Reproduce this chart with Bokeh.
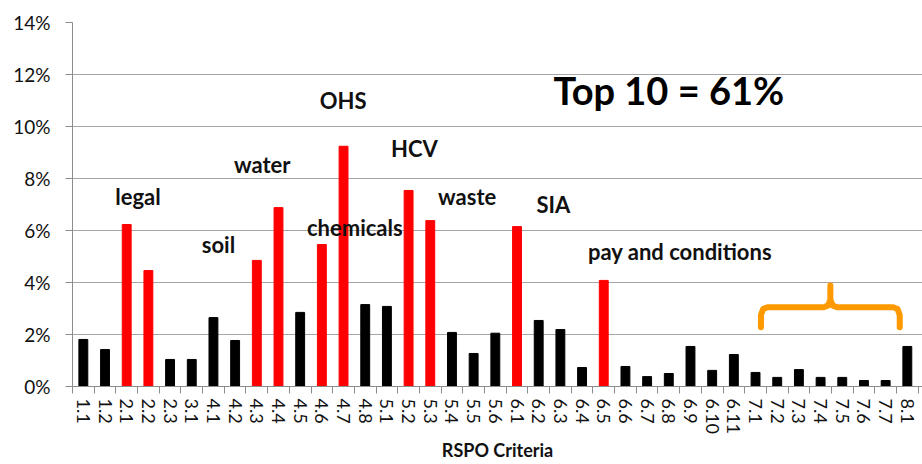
from bokeh.plotting import figure
from bokeh.models import FixedTicker, PrintfTickFormatter, ColumnDataSource
from bokeh.core.properties import value
from bokeh.embed import file_html
from bokeh.resources import INLINE

# ---- data ----
criteria = ["1.1", "1.2", "2.1", "2.2", "2.3", "3.1", "4.1", "4.2", "4.3", "4.4",
            "4.5", "4.6", "4.7", "4.8", "5.1", "5.2", "5.3", "5.4", "5.5", "5.6",
            "6.1", "6.2", "6.3", "6.4", "6.5", "6.6", "6.7", "6.8", "6.9", "6.10",
            "6.11", "7.1", "7.2", "7.3", "7.4", "7.5", "7.6", "7.7", "8.1"]
share_pct = [1.81, 1.42, 6.23, 4.46, 1.04, 1.04, 2.65, 1.77, 4.85, 6.88,
             2.85, 5.46, 9.24, 3.15, 3.08, 7.54, 6.38, 2.08, 1.27, 2.05,
             6.15, 2.54, 2.19, 0.73, 4.08, 0.77, 0.38, 0.50, 1.54, 0.62,
             1.23, 0.54, 0.35, 0.65, 0.35, 0.35, 0.23, 0.23, 1.54]
y_ticks = [0, 2, 4, 6, 8, 10, 12, 14]

topic_labels = ["legal", "soil", "water", "chemicals", "OHS", "HCV", "waste", "SIA",
                "pay and conditions"]
topic_x = [2.52, 6.23, 8.25, 12.52, 11.98, 15.27, 17.7, 21.68, 27.52]
topic_y = [7.31, 5.46, 8.54, 6.12, 11.0, 9.15, 7.31, 7.0, 5.19]

summary_text = "Top 10 = 61%"
summary_x = 27.0
summary_y = 11.42

brace_group = ["7.1", "7.7"]
brace_level = 3.05

# ---- derived ----
idx = list(range(len(criteria)))
top10 = sorted(idx, key=lambda i: share_pct[i], reverse=True)[:10]
colors = ["#FF0000" if i in top10 else "#000000" for i in idx]

FONT = "Lato"

p = figure(width=922, height=464, x_range=(-0.5, 38.7), y_range=(0, 14),
           output_backend="svg", toolbar_location=None,
           min_border_left=72, min_border_right=0, min_border_top=22, min_border_bottom=78)
p.outline_line_color = None
p.background_fill_color = "white"
p.border_fill_color = "white"

p.vbar(x=idx, top=share_pct, width=0.41, color=colors)

# axes
p.yaxis.ticker = FixedTicker(ticks=y_ticks)
p.yaxis.formatter = PrintfTickFormatter(format="%d%%")
p.yaxis.major_tick_in = 0
p.yaxis.major_tick_out = 7
p.yaxis.minor_tick_line_color = None
p.yaxis.axis_line_color = "#8C8C8C"
p.yaxis.major_tick_line_color = "#8C8C8C"
p.yaxis.major_label_text_font = FONT
p.yaxis.major_label_text_font_size = "19px"
p.yaxis.major_label_text_color = "#111111"
p.yaxis.major_label_standoff = 15

boundaries = [i - 0.5 for i in range(len(criteria) + 1)]
p.xaxis.ticker = FixedTicker(ticks=idx, minor_ticks=boundaries)
p.xaxis.major_label_overrides = {i: c for i, c in enumerate(criteria)}
p.xaxis.major_tick_in = 0
p.xaxis.major_tick_out = 0
p.xaxis.minor_tick_in = 0
p.xaxis.minor_tick_out = 7
p.xaxis.minor_tick_line_color = "#8C8C8C"
p.xaxis.axis_line_color = "#8C8C8C"
p.xaxis.major_label_orientation = "vertical"
p.xaxis.major_label_text_font = FONT
p.xaxis.major_label_text_font_size = "18px"
p.xaxis.major_label_text_color = "#111111"
p.xaxis.major_label_standoff = 5
p.xaxis.axis_label = "RSPO Criteria"
p.xaxis.axis_label_text_font = FONT
p.xaxis.axis_label_text_font_size = "18px"
p.xaxis.axis_label_text_font_style = "bold"
p.xaxis.axis_label_text_color = "#111111"
p.xaxis.axis_label_standoff = 2

p.xgrid.grid_line_color = None
p.ygrid.grid_line_color = "#A6A6A6"
p.ygrid.grid_line_width = 1

# annotations
src = ColumnDataSource(dict(x=topic_x, y=topic_y, t=topic_labels))
p.text(x="x", y="y", text="t", source=src, text_font=value(FONT), text_font_style="bold",
       text_font_size="22px", text_align="center", text_baseline="middle", text_color="#111111")
p.text(x=[summary_x], y=[summary_y], text=[summary_text], text_font=value(FONT),
       text_font_style="bold", text_font_size="38px", text_align="center",
       text_baseline="middle", text_color="#000000")

# orange brace over the 7.x group
x0 = criteria.index(brace_group[0]) + 0.25
x1 = criteria.index(brace_group[1]) + 0.65
xm = (x0 + x1) / 2
bx = [x0, x0, x0 + 0.1, x0 + 0.3, xm - 0.3, xm - 0.1, xm, xm, xm, xm + 0.1, xm + 0.3,
      x1 - 0.3, x1 - 0.1, x1, x1]
by = [brace_level - 0.77, brace_level - 0.3, brace_level - 0.07, brace_level, brace_level,
      brace_level + 0.07, brace_level + 0.3, brace_level + 0.83, brace_level + 0.3,
      brace_level + 0.07, brace_level, brace_level, brace_level - 0.07, brace_level - 0.3,
      brace_level - 0.77]
p.line(bx, by, line_color="#FF9900", line_width=6, line_join="round", line_cap="round")

open("out.html", "w").write(file_html(p, INLINE))
